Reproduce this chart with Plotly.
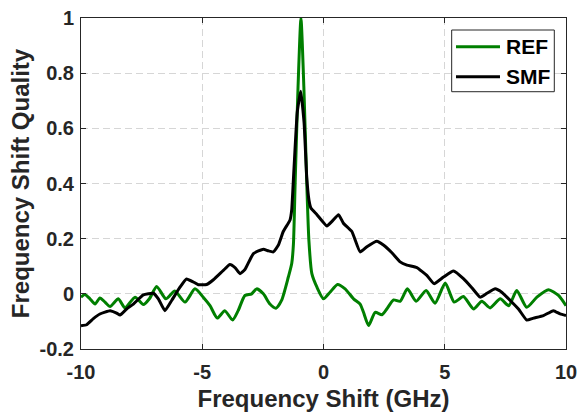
import plotly.graph_objects as go

# REF trace: narrow peak on a weak oscillating floor
ref_x = [-10, -9.84, -9.63, -9.42, -9.22, -9.01, -8.8, -8.46, -8.19, -7.77, -7.43, -7.18,
         -6.88, -6.5, -6.13, -5.71, -5.3, -4.96, -4.68, -4.38, -4.07, -3.75, -3.52, -3.24,
         -2.96, -2.76, -2.48, -2.21, -1.96, -1.73, -1.45, -1.31, -1.24, -1.17, -1.05, -0.93,
         -0.81, -0.69, -0.6, -0.48, -0.27, 0.0, 0.27, 0.58, 0.89, 1.24, 1.51, 1.65, 1.86,
         2.13, 2.41, 2.61, 2.89, 3.16, 3.46, 3.82, 4.23, 4.6, 5.02, 5.39, 5.77, 6.19, 6.53,
         6.87, 7.29, 7.64, 7.97, 8.38, 8.8, 9.28, 9.69, 10.0]
ref_y = [-0.012, -0.002, -0.018, -0.037, -0.015, -0.030, -0.046, -0.018, -0.051, -0.012,
         -0.039, -0.018, 0.027, -0.018, 0.010, -0.030, 0.018, -0.012, -0.043, -0.088, -0.061,
         -0.095, -0.061, -0.006, 0.0, 0.018, 0.0, -0.037, -0.052, -0.024, 0.061, 0.11, 0.18,
         0.40, 0.75, 1.0, 0.75, 0.40, 0.19, 0.073, 0.024, -0.018, 0.006, 0.034, 0.018, -0.018,
         -0.037, -0.067, -0.115, -0.067, -0.076, -0.055, -0.022, -0.027, 0.018, -0.027, 0.012,
         -0.034, 0.039, -0.030, -0.010, -0.055, -0.027, -0.051, -0.018, -0.043, 0.012, -0.049,
         -0.012, 0.015, -0.006, -0.043]

# SMF trace: lower, broadened peak on a sloping pedestal
smf_x = [-10, -9.77, -9.49, -9.22, -8.8, -8.53, -8.39, -8.12, -7.84, -7.43, -7.02, -6.81,
         -6.54, -6.26, -5.92, -5.65, -5.37, -5.16, -4.82, -4.54, -4.13, -3.86, -3.65, -3.44,
         -3.24, -2.89, -2.48, -2.28, -2.07, -1.86, -1.66, -1.38, -1.31, -1.22, -1.08, -0.94,
         -0.8, -0.69, -0.6, -0.52, -0.27, 0.14, 0.34, 0.62, 0.82, 1.17, 1.51, 1.79, 2.2, 2.47,
         2.82, 3.16, 3.44, 3.85, 4.26, 4.56, 4.95, 5.36, 5.77, 6.12, 6.46, 6.74, 7.08, 7.35,
         7.7, 8.04, 8.38, 8.66, 9.07, 9.48, 9.76, 10.0]
smf_y = [-0.116, -0.112, -0.09, -0.073, -0.061, -0.07, -0.077, -0.055, -0.037, -0.004, 0.002,
         -0.018, -0.061, -0.024, 0.024, 0.054, 0.043, 0.033, 0.034, 0.051, 0.085, 0.106, 0.095,
         0.073, 0.088, 0.146, 0.162, 0.156, 0.152, 0.177, 0.226, 0.268, 0.305, 0.45, 0.66,
         0.734, 0.62, 0.42, 0.34, 0.311, 0.287, 0.246, 0.262, 0.287, 0.256, 0.226, 0.152,
         0.171, 0.191, 0.177, 0.149, 0.116, 0.104, 0.095, 0.067, 0.037, 0.061, 0.083, 0.055,
         0.022, -0.012, 0.002, 0.018, 0.006, -0.024, -0.055, -0.095, -0.088, -0.079, -0.061,
         -0.073, -0.079]

series_names = ["REF", "SMF"]
series_colors = ["#007F00", "#000000"]

x_ticks = [-10, -5, 0, 5, 10]
y_ticks = [-0.2, 0, 0.2, 0.4, 0.6, 0.8, 1]
y_tick_text = ["-0.2", "0", "0.2", "0.4", "0.6", "0.8", "1"]

ink = "#262626"
font_family = "Liberation Sans, Arial, sans-serif"

fig = go.Figure()
for xs, ys, name, color, smooth in [(ref_x, ref_y, series_names[0], series_colors[0], 0.6),
                                    (smf_x, smf_y, series_names[1], series_colors[1], 0.4)]:
    fig.add_trace(go.Scatter(x=xs, y=ys, mode="lines", name=name, showlegend=False,
                             line=dict(color=color, width=3, shape="spline", smoothing=smooth)))

axis_common = dict(
    showline=True, linecolor=ink, linewidth=1, mirror="allticks",
    ticks="inside", ticklen=5, tickcolor=ink,
    showgrid=True, gridcolor="#d6d6d6", griddash="7px,4px", gridwidth=1,
    zeroline=False, automargin=False,
    tickfont=dict(family=font_family, size=20, color=ink, weight="bold"),
)

fig.update_xaxes(range=[-10, 10], tickvals=x_ticks, ticktext=[str(v) for v in x_ticks],
                 ticklabelstandoff=5,
                 title=dict(text="Frequency Shift (GHz)", standoff=8,
                            font=dict(family=font_family, size=24, color=ink, weight="bold")),
                 **axis_common)
fig.update_yaxes(range=[-0.2, 1], tickvals=y_ticks, ticktext=y_tick_text,
                 ticklabelstandoff=2,
                 title=dict(text="Frequency Shift Quality", standoff=3,
                            font=dict(family=font_family, size=24, color=ink, weight="bold")),
                 **axis_common)

# Boxed legend in the upper-right corner of the axes (paper coordinates)
box_x0, box_x1, box_y0, box_y1 = 0.7643, 0.9759, 0.7773, 0.9637
key_x0, key_x1, label_x = 0.7732, 0.8639, 0.8722
row_y = [0.9133, 0.8227]
shapes = [dict(type="rect", xref="paper", yref="paper", x0=box_x0, x1=box_x1,
               y0=box_y0, y1=box_y1, line=dict(color=ink, width=1), fillcolor="white",
               layer="above")]
annotations = []
for name, color, yy in zip(series_names, series_colors, row_y):
    shapes.append(dict(type="line", xref="paper", yref="paper", x0=key_x0, x1=key_x1,
                       y0=yy, y1=yy, line=dict(color=color, width=3), layer="above"))
    annotations.append(dict(xref="paper", yref="paper", x=label_x, y=yy, text=name,
                            showarrow=False, xanchor="left", yanchor="middle",
                            font=dict(family=font_family, size=21, color="#000000",
                                      weight="bold")))

fig.update_layout(
    width=578, height=415,
    margin=dict(l=81, r=12, t=18, b=66),
    plot_bgcolor="white", paper_bgcolor="white",
    shapes=shapes, annotations=annotations,
)

fig.write_html("out.html")
